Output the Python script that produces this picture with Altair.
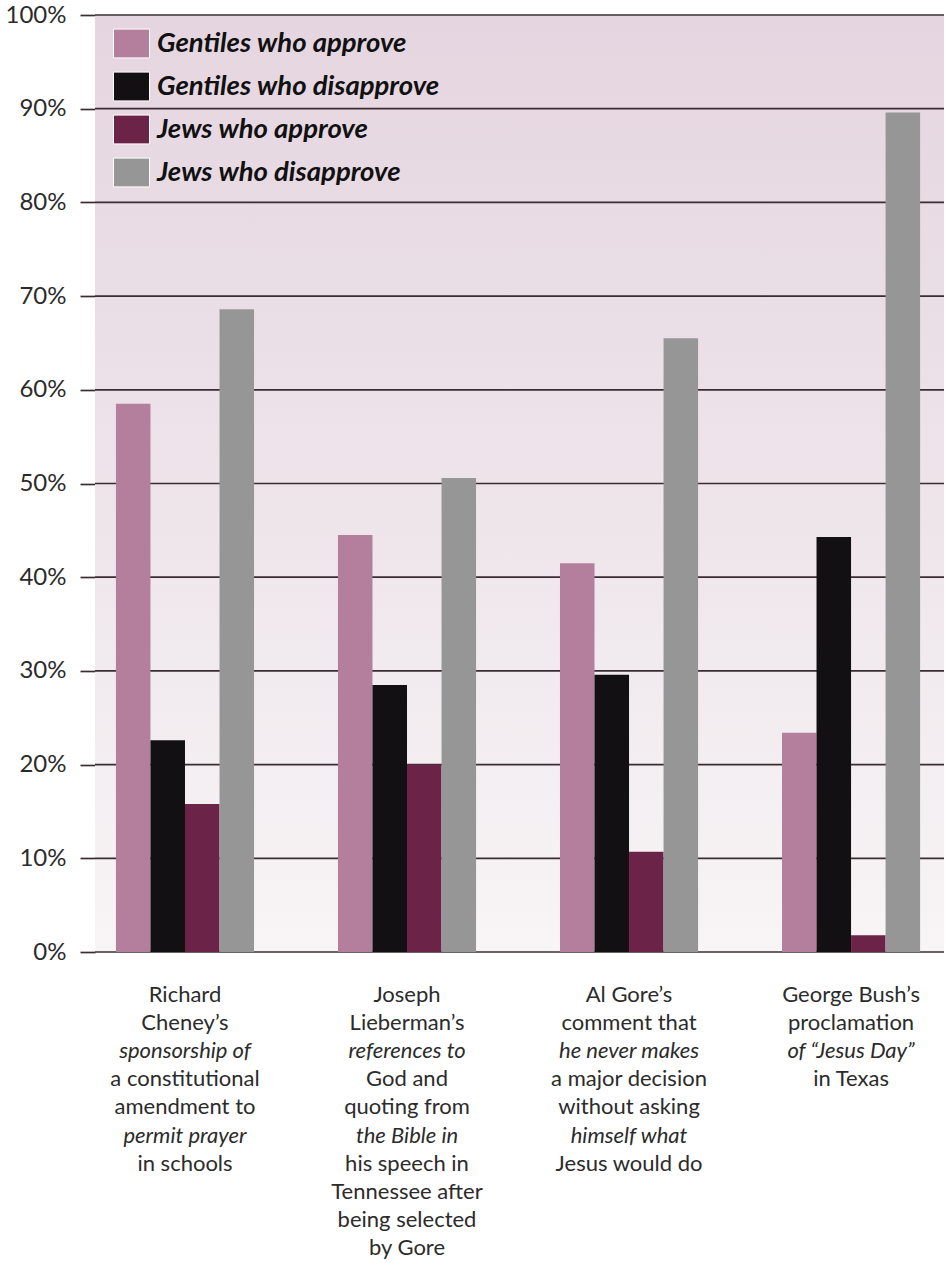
import altair as alt
import pandas as pd

# Survey responses (percent) for four campaign-season religious statements
categories = ["Cheney", "Lieberman", "Gore", "Bush"]
series = [
    "Gentiles who approve",
    "Gentiles who disapprove",
    "Jews who approve",
    "Jews who disapprove",
]
gentiles_approve = [58.5, 44.5, 41.5, 23.4]
gentiles_disapprove = [22.6, 28.5, 29.6, 44.3]
jews_approve = [15.8, 20.0, 10.7, 1.8]
jews_disapprove = [68.6, 50.6, 65.5, 89.6]
series_colors = ["#b47e9d", "#131013", "#6b2447", "#979697"]
y_ticks = list(range(0, 101, 10))

# Category captions, one entry per printed line: (text, italic?)
caption_lines = {
    "Cheney": [
        ("Richard", False), ("Cheney\u2019s", False), ("sponsorship of", True),
        ("a constitutional", False), ("amendment to", False),
        ("permit prayer", True), ("in schools", False),
    ],
    "Lieberman": [
        ("Joseph", False), ("Lieberman\u2019s", False), ("references to", True),
        ("God and", False), ("quoting from", False), ("the Bible in", True),
        ("his speech in", False), ("Tennessee after", False),
        ("being selected", False), ("by Gore", False),
    ],
    "Gore": [
        ("Al Gore\u2019s", False), ("comment that", False),
        ("he never makes", True), ("a major decision", False),
        ("without asking", False), ("himself what", True),
        ("Jesus would do", False),
    ],
    "Bush": [
        ("George Bush\u2019s", False), ("proclamation", False),
        ("of \u201cJesus Day\u201d", True), ("in Texas", False),
    ],
}

values_by_series = [gentiles_approve, gentiles_disapprove, jews_approve, jews_disapprove]
bars = pd.DataFrame(
    [
        {"category": c, "series": s, "pct": vals[i]}
        for s, vals in zip(series, values_by_series)
        for i, c in enumerate(categories)
    ]
)
captions = pd.DataFrame(
    [
        {"category": c, "line": n, "text": t, "italic": it}
        for c in categories
        for n, (t, it) in enumerate(caption_lines[c])
    ]
)
grid = pd.DataFrame({"pct": y_ticks})

W, H = 849, 937
FONT = "Lato"
GRID = "#3a2c33"

x_scale = alt.Scale(
    domain=categories, paddingInner=0.378, paddingOuter=0.101, align=0.467
)
y_scale = alt.Scale(domain=[0, 100], nice=False)
y_axis = alt.Axis(
    values=y_ticks,
    labelExpr="datum.value + '%'",
    title=None,
    grid=False,
    domain=False,
    tickSize=15,
    tickColor=GRID,
    tickWidth=1.7,
    labelFont=FONT,
    labelFontSize=24,
    labelColor="#2b2b2b",
    labelPadding=14,
)

background = (
    alt.Chart(alt.Data(values=[{"k": 1}]))
    .mark_rect(
        strokeWidth=0,
        fill=alt.LinearGradient(
            gradient="linear",
            x1=0, x2=0, y1=0, y2=1,
            stops=[
                alt.GradientStop(color="#e5d5e0", offset=0),
                alt.GradientStop(color="#eadee6", offset=0.3),
                alt.GradientStop(color="#efe7ec", offset=0.6),
                alt.GradientStop(color="#f8f5f6", offset=1),
            ],
        ),
    )
    .encode(
        x=alt.value(0), x2=alt.value(W), y=alt.value(0), y2=alt.value(H)
    )
)

gridlines = (
    alt.Chart(grid)
    .mark_rule(color=GRID, strokeWidth=1.7)
    .encode(y=alt.Y("pct:Q", scale=y_scale, axis=y_axis))
)

bar_layer = (
    alt.Chart(bars)
    .mark_bar()
    .encode(
        x=alt.X("category:N", scale=x_scale, sort=categories, axis=None),
        xOffset=alt.XOffset(
            "series:N",
            sort=series,
            scale=alt.Scale(domain=series, paddingInner=0, paddingOuter=0),
        ),
        y=alt.Y("pct:Q", scale=y_scale, axis=y_axis),
        color=alt.Color(
            "series:N",
            scale=alt.Scale(domain=series, range=series_colors),
            legend=alt.Legend(
                title=None,
                orient="none",
                legendX=18,
                legendY=10,
                symbolType="M-1,-0.8H1V0.8H-1Z",
                symbolSize=1296,
                symbolStrokeColor="#ffffff",
                symbolStrokeWidth=1,
                symbolOpacity=1,
                labelFont=FONT,
                labelFontSize=27.5,
                labelFontWeight="bold",
                labelFontStyle="italic",
                labelColor="#111111",
                labelOffset=7,
                rowPadding=8,
                labelLimit=500,
            ),
        ),
    )
)

plot_layers = alt.layer(background, gridlines, bar_layer)

caption_y = alt.Y(
    "line:Q",
    scale=alt.Scale(domain=[0, 9], range=[980, 1233], nice=False, zero=False),
    axis=None,
)


def caption_layer(italic):
    return (
        alt.Chart(captions)
        .transform_filter(f"datum.italic == {str(italic).lower()}")
        .mark_text(
            font=FONT,
            fontSize=22,
            fontStyle="italic" if italic else "normal",
            color="#2b2b2b",
            align="center",
            baseline="middle",
        )
        .encode(
            x=alt.X("category:N", scale=x_scale, sort=categories, axis=None),
            y=caption_y,
            text="text:N",
        )
    )


captions_layer = alt.layer(caption_layer(False), caption_layer(True))

chart = (
    alt.layer(plot_layers, captions_layer)
    .resolve_scale(y="independent")
    .properties(
        width=W,
        height=H,
        autosize=alt.AutoSizeParams(type="none"),
        padding={"left": 95, "top": 15, "right": 6, "bottom": 311},
        background="#ffffff",
    )
    .configure_view(stroke=None)
)

chart.save("out.html", embed_options={"renderer": "svg", "actions": False})
